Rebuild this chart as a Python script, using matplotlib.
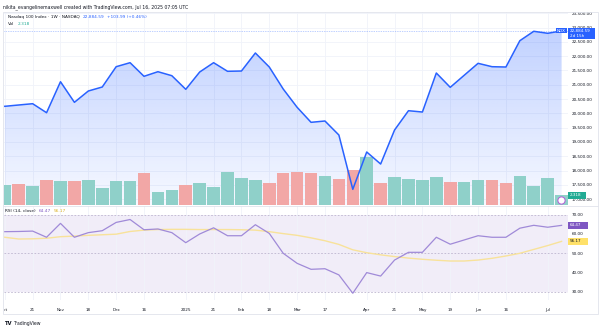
import matplotlib
matplotlib.use('Agg')
import matplotlib.pyplot as plt
import numpy as np
from matplotlib.patches import Polygon, Rectangle
from matplotlib.lines import Line2D
from matplotlib.transforms import Bbox, TransformedBbox, Affine2D, blended_transform_factory

W, H = 602, 329

# ---------------- data (weekly, Oct 7 2024 .. Jul 14 2025) ----------------
weeks = list(range(41))
close = [20248, 20294, 20339, 20024, 21108, 20388, 20783, 20923, 21633, 21773,
         21297, 21458, 21318, 20842, 21447, 21773, 21472, 21482, 22112, 21622,
         20853, 20213, 19688, 19734, 19244, 17345, 18650, 18230, 19419, 20094,
         20048, 21412, 20912, 21332, 21751, 21633, 21622, 22542, 22871, 22801,
         22884.59]
volume = [4.80, 4.96, 4.64, 6.00, 5.83, 5.75, 6.07, 4.08, 5.67, 5.67,
          7.75, 3.12, 3.68, 4.72, 5.28, 4.32, 7.91, 6.55, 5.91, 5.20,
          7.67, 7.83, 7.75, 7.03, 6.15, 8.39, 11.59, 5.20, 6.63, 6.23,
          5.91, 6.71, 5.60, 5.44, 5.91, 5.91, 5.36, 6.95, 4.64, 6.55,
          2.318]
direction = ['up', 'down', 'up', 'down', 'up', 'down', 'up', 'up', 'up', 'up',
             'down', 'up', 'up', 'down', 'up', 'up', 'up', 'up', 'up', 'down',
             'down', 'down', 'down', 'up', 'down', 'down', 'up', 'down', 'up', 'up',
             'up', 'up', 'down', 'up', 'up', 'down', 'down', 'up', 'up', 'up',
             'up']
rsi = [61.2, 61.3, 61.5, 58.3, 65.5, 58.3, 60.7, 61.7, 66.0, 67.5,
       62.2, 62.6, 60.7, 55.5, 60.0, 63.2, 59.1, 59.1, 64.8, 60.3,
       50.0, 44.8, 41.7, 42.0, 38.8, 29.3, 40.0, 38.2, 46.5, 50.5,
       50.5, 58.3, 54.7, 56.9, 59.1, 58.3, 58.3, 63.0, 64.5, 63.5,
       64.47]
rsi_ma = [58.3, 57.4, 57.5, 57.8, 58.6, 58.9, 59.3, 59.6, 59.9, 61.3,
          62.0, 62.3, 62.4, 62.4, 62.3, 62.3, 62.3, 62.2, 62.0, 61.2,
          60.2, 59.3, 58.0, 56.5, 54.6, 51.8, 50.3, 49.2, 48.3, 47.5,
          46.9, 46.4, 46.0, 46.0, 46.5, 47.4, 48.6, 50.0, 52.0, 54.0,
          56.17]
tick_pos = [0, 2, 4, 6, 8, 10, 13, 15, 17, 19, 21, 23, 26, 28, 30, 32, 34, 36, 39]
tick_lbl = ['Oct', '21', 'Nov', '18', 'Dec', '16', '2025', '21', 'Feb', '18',
            'Mar', '17', 'Apr', '21', 'May', '19', 'Jun', '16', 'Jul']
price_ticks = list(range(17000, 23501, 500))
rsi_ticks = [30, 40, 50, 60, 70]
rsi_levels = [70, 50, 30]

# ---------------- styling ----------------
FS = 3.0
LFS = 3.1
TXT = '#131722'
GRID = '#f0f3fa'
BLUE = '#2962ff'
UP_C, DN_C = '#8fd0c9', '#f2a7a6'

fig = plt.figure(figsize=(W / 100, H / 100), dpi=100)
fig.patch.set_facecolor('white')


def rect(x0, y0, x1, y1):
    return [x0 / W, 1 - y1 / H, (x1 - x0) / W, (y1 - y0) / H]


def fx(x):
    return x / W


def fy(y):
    return 1 - y / H


XL = (-0.065, 40.46)
YL = (16797, 23535)
VOL_TOP = 46.2

# ---------------- main pane ----------------
ax = fig.add_axes(rect(3.9, 12.3, 568, 205))
ax.set_facecolor('white')

rgb = np.array([41, 98, 255]) / 255
grad = np.zeros((256, 2, 4))
grad[..., :3] = rgb
grad[..., 3] = np.linspace(0.29, 0.04, 256)[:, None]
im = ax.imshow(grad, extent=[XL[0], XL[1], YL[0], max(close)], origin='upper',
               aspect='auto', zorder=1, interpolation='bilinear')
poly = Polygon([(weeks[0], YL[0])] + list(zip(weeks, close)) + [(weeks[-1], YL[0])],
               closed=True, fc='none', ec='none')
ax.add_patch(poly)
im.set_clip_path(poly)

vtrans = blended_transform_factory(ax.transData,
                                   Affine2D().scale(1, 1 / VOL_TOP) + ax.transAxes)
bar_colors = [UP_C if d == 'up' else DN_C for d in direction]
ax.bar(weeks, volume, width=0.9, color=bar_colors, transform=vtrans, zorder=2, lw=0)

ax.plot(weeks, close, color=BLUE, lw=1.1, zorder=4)
ax.axhline(close[-1], color=BLUE, lw=0.5, ls=(0, (1, 1.5)), alpha=0.6, zorder=3)

ax.set_xlim(XL)
ax.set_ylim(YL)
ax.set_xticks(tick_pos)
ax.set_yticks(price_ticks)
ax.set_yticklabels([f'{p:,.2f}' for p in price_ticks])
ax.yaxis.tick_right()
ax.tick_params(axis='x', length=0, labelbottom=False)
ax.tick_params(axis='y', length=0, pad=2.9, labelsize=FS, labelcolor=TXT)
ax.grid(True, color=GRID, lw=0.6)
ax.set_axisbelow(True)
for s in ax.spines.values():
    s.set_visible(False)

# ---------------- RSI pane ----------------
axr = fig.add_axes(rect(3.9, 206, 568, 300))
axr.set_xlim(XL)
axr.set_ylim(25.8, 74.5)
axr.axhspan(rsi_levels[-1], rsi_levels[0], color='#7e57c2', alpha=0.1, lw=0, zorder=0)
for lvl in rsi_levels:
    axr.axhline(lvl, color='#bdb5cf', lw=0.6, ls=(0, (2, 2)), zorder=1)
axr.plot(weeks, rsi_ma, color='#f8e29a', lw=1.0, zorder=2)
axr.plot(weeks, rsi, color='#a08ad8', lw=0.9, zorder=3)
axr.set_xticks(tick_pos)
axr.set_xticklabels(tick_lbl)
axr.set_yticks(rsi_ticks)
axr.set_yticklabels([f'{v:.2f}' for v in rsi_ticks])
axr.yaxis.tick_right()
axr.tick_params(axis='x', length=0, pad=5.6, labelsize=FS, labelcolor=TXT)
axr.tick_params(axis='y', length=0, pad=2.9, labelsize=FS, labelcolor=TXT)
axr.grid(axis='x', color=GRID, lw=0.6)
axr.set_axisbelow(True)
for s in axr.spines.values():
    s.set_visible(False)
clipbox = TransformedBbox(Bbox.from_extents(3.6 / W, 0, 1, 1), fig.transFigure)
for lbl in axr.get_xticklabels():
    lbl.set_clip_box(clipbox)
    lbl.set_clip_on(True)

# ---------------- frame ----------------
fig.add_artist(Rectangle((fx(3), fy(314)), 595 / W, 302 / H, fill=False,
                         ec='#e0e3eb', lw=0.6, transform=fig.transFigure))
fig.add_artist(Line2D([fx(3), fx(598)], [fy(205.6)] * 2, color='#e0e3eb', lw=0.6))

# ---------------- texts ----------------
fig.canvas.draw()
renderer = fig.canvas.get_renderer()


def run_text(x, y, parts, size):
    """Place coloured text pieces one after another on a line."""
    for s, c, gap in parts:
        t = fig.text(fx(x), fy(y), s, fontsize=size, color=c, va='center')
        bb = t.get_window_extent(renderer)
        x = x + bb.width + gap


fig.text(fx(3), fy(7), 'nikita_evangelinemaxwell created with TradingView.com, Jul 16, 2025 07:05 UTC',
         fontsize=3.3, color=TXT, va='center')
run_text(8.3, 16.7, [('Nasdaq 100 Index · 1W · NASDAQ', TXT, 3.0),
                     ('22,884.59', BLUE, 2.5),
                     ('+103.99 (+0.46%)', BLUE, 0)], LFS)
run_text(8.3, 24.3, [('Vol', TXT, 3.0), ('2.318', '#22ab94', 0)], LFS)
run_text(5, 210.5, [('RSI (14, close)', TXT, 3.0), ('64.47', '#7e57c2', 2.5),
                    ('56.17', '#d9ae1c', 0)], LFS)

fig.text(fx(4), fy(323.5), 'TV', fontsize=3.8, color=TXT, va='center', fontweight='bold')
fig.text(fx(12.7), fy(323.5), 'TradingView', fontsize=3.3, color=TXT, va='center')


# ---------------- right-scale value labels ----------------
def ytop(trans, val):
    return H - trans.transform((0, val))[1]


def box(x0, x1, yc, h_up, h_dn, color):
    fig.add_artist(Rectangle((fx(x0), fy(yc + h_dn)), (x1 - x0) / W, (h_up + h_dn) / H,
                             fc=color, ec='none', transform=fig.transFigure, zorder=5))


yc = ytop(ax.transData, close[-1])
box(556, 566.7, yc, 2.8, 2.5, BLUE)
fig.text(fx(561.3), fy(yc), 'NDX', fontsize=FS, color='white', va='center', ha='center', zorder=6)
box(567.7, 595, yc, 3.0, 8.4, BLUE)
fig.text(fx(569.5), fy(yc), '22,884.59', fontsize=FS, color='white', va='center', zorder=6)
fig.text(fx(569.5), fy(yc + 5.4), '2d 15h', fontsize=FS, color='white', va='center', zorder=6)

yv = ytop(vtrans, volume[-1])
box(567.7, 586, yv, 3.3, 3.3, '#22ab94')
fig.text(fx(569.5), fy(yv), '2.318', fontsize=FS, color='white', va='center', zorder=6)
fig.add_artist(Line2D([fx(561)], [fy(yv + 4.5)], marker='o', markersize=5.2,
                      markerfacecolor='white', markeredgecolor='#b45ad6',
                      markeredgewidth=0.7, transform=fig.transFigure, zorder=6))

yr = ytop(axr.transData, rsi[-1])
box(567.7, 588, yr, 3.3, 3.3, '#7e57c2')
fig.text(fx(569.5), fy(yr), f'{rsi[-1]:.2f}', fontsize=FS, color='white', va='center', zorder=6)
ym = ytop(axr.transData, rsi_ma[-1])
box(567.7, 588, ym, 3.3, 3.3, '#ffe169')
fig.text(fx(569.5), fy(ym), f'{rsi_ma[-1]:.2f}', fontsize=FS, color=TXT, va='center', zorder=6)

fig.savefig('out.png', dpi=100, facecolor='white')
